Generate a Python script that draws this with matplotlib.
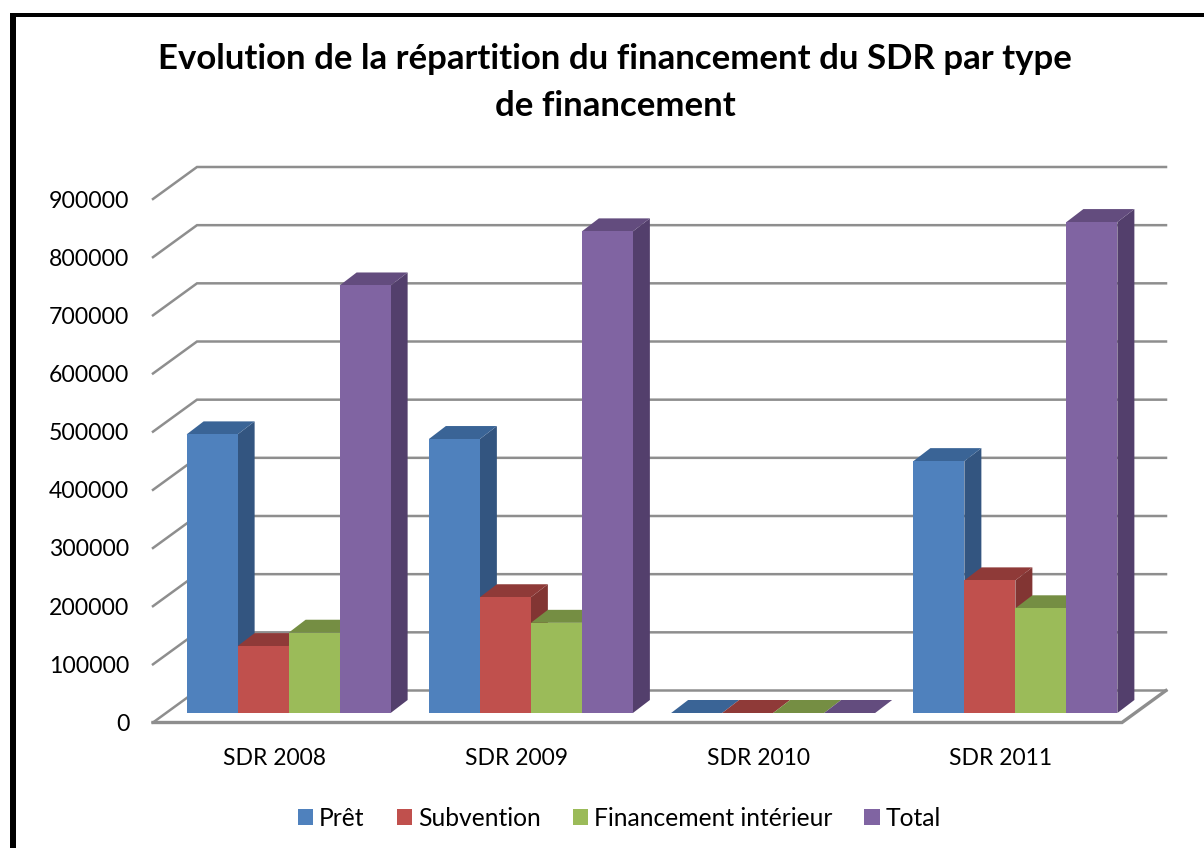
import matplotlib
matplotlib.use("Agg")
import numpy as np
import matplotlib.pyplot as plt
from matplotlib.patches import Rectangle

plt.rcParams['font.family'] = ['Lato', 'DejaVu Sans']

categories = ["SDR 2008", "SDR 2009", "SDR 2010", "SDR 2011"]
pret = [479000, 471000, 0, 433000]
subvention = [115000, 199000, 0, 228000]
fin_interieur = [138000, 155000, 0, 180000]
total = [735000, 828000, 0, 844000]
series_names = ["Prêt", "Subvention", "Financement intérieur", "Total"]
y_ticks = [0, 100000, 200000, 300000, 400000, 500000, 600000, 700000, 800000, 900000]

front_cols = ["#4F81BD", "#C0504D", "#9BBB59", "#8064A2"]
side_cols = ["#335580", "#823533", "#69803B", "#533F6C"]
top_cols = ["#3A6496", "#8F3A38", "#758E43", "#634C7E"]
grid_col = "#8E8E8E"

W, H = 1204, 848
fig = plt.figure(figsize=(W / 100, H / 100), dpi=100)

# axes = front plane of the fake 3d box, in pixels
left, right, bottom, top = 153, 1122, 722.5, 199
ax = fig.add_axes([left / W, 1 - bottom / H, (right - left) / W, (bottom - top) / H])
ax.set_xlim(-0.5, 3.5)
ax.set_ylim(0, 900000)
ax.patch.set_visible(False)
for s in ax.spines.values():
    s.set_visible(False)

px_x = 4.0 / (right - left)
px_y = 900000.0 / (bottom - top)

wall_dx, wall_dy = 44 * px_x, 32 * px_y     # depth of the box
base_dx, base_dy = 14.5 * px_x, 9.5 * px_y  # bars stand a bit behind the front edge
bar_dx, bar_dy = 17 * px_x, 13 * px_y       # depth of a bar
bar_w = 51 * px_x

# back wall grid + diagonals
for v in y_ticks:
    ax.plot([-0.5, -0.5 + wall_dx, 3.5 + wall_dx], [v, v + wall_dy, v + wall_dy],
            color=grid_col, lw=1.8, clip_on=False, zorder=1, solid_joinstyle="miter")
# floor
ax.plot([-0.5, 3.5, 3.5 + wall_dx], [0, 0, wall_dy], color=grid_col, lw=2.4,
        clip_on=False, zorder=1, solid_joinstyle="miter")

x = np.arange(len(categories))
all_series = [pret, subvention, fin_interieur, total]
handles = []
z = 2
for i, vals in enumerate(all_series):
    xs = x + base_dx + (i - 1.5) * bar_w
    for xc, v in zip(xs, vals):
        x0, x1 = xc - bar_w / 2, xc + bar_w / 2
        y0, y1 = base_dy, base_dy + v
        if v > 0:
            ax.fill([x1, x1 + bar_dx, x1 + bar_dx, x1], [y0, y0 + bar_dy, y1 + bar_dy, y1],
                    color=side_cols[i], lw=0, clip_on=False, zorder=z)
        ax.fill([x0, x1, x1 + bar_dx, x0 + bar_dx], [y1, y1, y1 + bar_dy, y1 + bar_dy],
                color=top_cols[i], lw=0, clip_on=False, zorder=z)
    b = ax.bar(xs, vals, bar_w, bottom=base_dy, color=front_cols[i], label=series_names[i],
               clip_on=False, zorder=z + 0.5)
    handles.append(b)
    z += 1

ax.set_yticks(y_ticks)
ax.set_yticklabels([str(v) for v in y_ticks])
ax.set_xticks(x)
ax.set_xticklabels(categories)
ax.tick_params(axis="y", length=0, pad=17, labelsize=16.6, labelcolor="black")
ax.tick_params(axis="x", length=0, pad=18.5, labelsize=16.5, labelcolor="black")

fig.text(615 / W, 1 - 59 / H, "Evolution de la répartition du financement du SDR par type",
         ha="center", va="center", fontsize=25, fontweight="bold", color="black")
fig.text(615 / W, 1 - 105.5 / H, "de financement",
         ha="center", va="center", fontsize=25, fontweight="bold", color="black")

fig.legend(handles=handles, labels=series_names, loc="center", ncol=4,
           bbox_to_anchor=(619.5 / W, 1 - 818 / H), frameon=False, fontsize=17.7,
           handlelength=0.62, handleheight=0.62, handletextpad=0.25, columnspacing=1.3)

# thick frame, only left and top are in the crop
fig.add_artist(Rectangle((10 / W, 0), 6 / W, 1 - 13 / H, transform=fig.transFigure, color="black", lw=0))
fig.add_artist(Rectangle((10 / W, 1 - 16.5 / H), 1 - 10 / W, 3.5 / H, transform=fig.transFigure, color="black", lw=0))

fig.savefig("out.png", dpi=100)
